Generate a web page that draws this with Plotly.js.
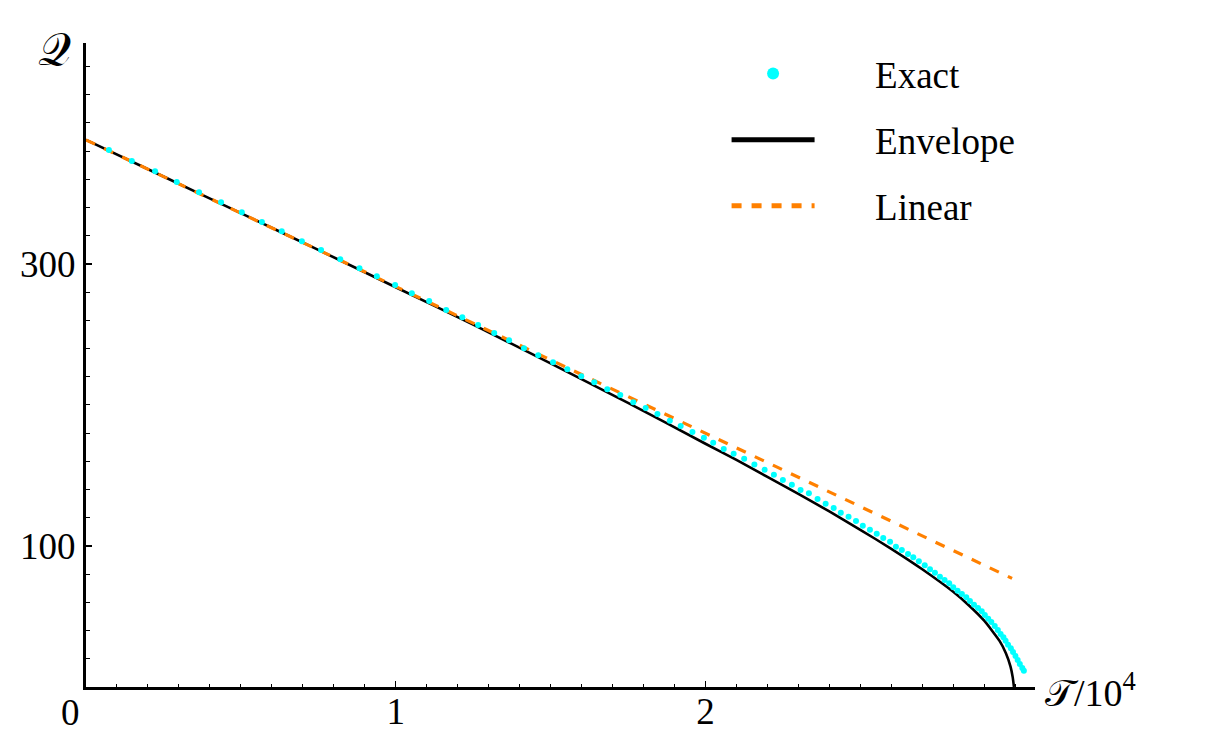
<!DOCTYPE html>
<html><head><meta charset="utf-8">
<script src="https://cdn.plot.ly/plotly-3.0.1.min.js"></script>
<style>html,body{margin:0;padding:0;background:#fff}#chart{width:1232px;height:746px}</style>
</head><body><div id="chart"></div>
<script>
// Exact (cyan dots): T/10^4 and Q
const exactT = [0.074,0.148,0.223,0.293,0.365,0.436,0.503,0.568,0.632,0.697,0.759,0.821,0.883,0.939,
  0.998,1.052,1.108,1.163,1.215,1.266,1.318,1.366,1.414,1.460,1.508,1.554,1.599,1.641,1.683,1.725,1.767,1.807,1.845,1.885,1.920,1.958,1.995,
  2.025,2.059,2.091,2.125,2.158,2.191,2.221,2.250,2.279,2.307,2.334,2.362,2.388,2.414,2.437,2.462,2.486,2.508,2.531,2.553,2.574,2.596,
  2.615,2.634,2.654,2.671,2.689,2.708,2.725,2.741,2.757,2.772,2.787,2.800,2.814,2.828,2.842,2.854,2.867,2.880,2.892,2.902,2.913,2.923,2.934,2.944,2.953,2.962,2.969,2.977,2.986,2.993,3.001,3.008,3.015,3.023,3.028];
const exactQ = [380.9,373.0,365.8,358.2,350.9,343.8,336.7,329.8,323.2,316.1,309.9,303.3,296.9,291.3,
  285.1,279.2,273.8,267.4,262.2,256.7,251.1,245.9,240.2,235.2,230.3,225.3,220.4,216.1,211.1,207.1,201.9,197.9,193.6,188.9,185.1,180.9,176.8,
  173.3,168.8,165.5,161.9,157.7,154.1,150.6,146.8,143.5,139.7,137.4,133.3,130.0,127.0,123.6,120.8,117.7,114.4,111.6,108.7,105.7,103.0,
  99.5,97.2,94.3,92.0,89.1,86.3,83.5,81.1,78.2,75.9,73.5,70.7,68.3,66.0,63.6,61.0,58.4,56.0,53.7,51.1,48.4,46.1,43.3,40.4,37.6,35.2,32.8,30.0,27.4,24.8,22.0,19.1,16.3,13.5,11.6];
// Envelope (black solid)
const envelopeT = [0,0.25,0.5,0.75,1.0,1.25,1.5,1.75,2.0,2.1,2.2,2.3,2.4,2.5,2.6,2.7,2.8,2.85,2.9,2.95,2.97,2.985,2.992,2.996];
const envelopeQ = [388,362,336,310,283.5,257,229.5,201.5,172.5,161,149,137,124.5,111.5,98,83.5,67.5,58,47,32.5,24,14.5,7,0];
// Linear (orange dashed)
const linearT = [0, 2.99];
const linearQ = [388, 77];
// Axis ticks
const xTickVals = [1, 2];
const xTickText = ['1', '2'];
const yTickVals = [100, 300];
const yTickText = ['100', '300'];
const yUnlabelledMajor = [200, 400];
const originLabel = '0';
const seriesNames = ['Exact', 'Envelope', 'Linear'];

const FONT = 'Liberation Serif, Times New Roman, serif';
const PAD = '\u00A0'.repeat(6);
const traces = [
  {x: envelopeT, y: envelopeQ, type: 'scatter', mode: 'lines', name: PAD + seriesNames[1], legendrank: 2, legendgroup: 'b',
   line: {color: '#000000', width: 2.6, shape: 'spline', smoothing: 0.5}},
  {x: linearT, y: linearQ, type: 'scatter', mode: 'lines', name: PAD + seriesNames[2], legendrank: 3, legendgroup: 'c',
   line: {color: '#FF8000', width: 3.2, dash: '10px,10px'}},
  {x: exactT, y: exactQ, type: 'scatter', mode: 'markers', name: PAD + seriesNames[0], legendrank: 1, legendgroup: 'a',
   marker: {color: '#00FFFF', size: 6}}
];
const yRange = [0, 456.7];
const layout = {
  width: 1232, height: 746,
  margin: {l: 86, r: 197, t: 43, b: 59},
  paper_bgcolor: '#ffffff', plot_bgcolor: '#ffffff',
  font: {family: FONT, size: 37, color: '#000'},
  showlegend: true,
  legend: {x: 0.675, y: 1.0, xanchor: 'left', yanchor: 'top', bgcolor: 'rgba(0,0,0,0)',
    font: {family: FONT, size: 37, color: '#000'}, itemsizing: 'constant', itemwidth: 83, tracegroupgap: 15},
  xaxis: {range: [0, 3.064], showgrid: false, zeroline: false, showline: true, linecolor: '#000', linewidth: 3,
    tickmode: 'array', tickvals: xTickVals, ticktext: xTickText, ticks: 'inside', ticklen: 6, tickwidth: 1.5, tickcolor: '#000',
    ticklabelstandoff: -10,
    minor: {tickmode: 'linear', tick0: 0, dtick: 0.1, ticks: 'inside', ticklen: 3.5, tickwidth: 1, tickcolor: '#000'},
    tickfont: {family: FONT, size: 37}},
  yaxis: {range: yRange, showgrid: false, zeroline: false, showline: true, linecolor: '#000', linewidth: 3,
    tickmode: 'array', tickvals: yTickVals, ticktext: yTickText, ticks: 'inside', ticklen: 6, tickwidth: 1.5, tickcolor: '#000',
    minor: {tickmode: 'linear', tick0: 0, dtick: 20, ticks: 'inside', ticklen: 3.5, tickwidth: 1, tickcolor: '#000'},
    tickfont: {family: FONT, size: 37}},
  yaxis2: {range: yRange, overlaying: 'y', side: 'left', showgrid: false, zeroline: false, showline: false,
    tickmode: 'array', tickvals: yUnlabelledMajor, showticklabels: false, ticks: 'inside', ticklen: 6, tickwidth: 1.5, tickcolor: '#000'},
  annotations: [
    {text: '𝒬', xref: 'paper', yref: 'paper', x: 0, y: 1, xshift: -32, yshift: -6, xanchor: 'center', yanchor: 'middle',
     showarrow: false, font: {family: FONT, size: 46}},
    {text: '𝒯/10<sup>4</sup>', xref: 'paper', yref: 'paper', x: 1, y: 0, xshift: 8, yshift: -3, xanchor: 'left', yanchor: 'middle',
     showarrow: false, font: {family: FONT, size: 38}},
    {text: originLabel, xref: 'paper', yref: 'paper', x: 0, y: 0, xshift: -16, yshift: -25, xanchor: 'center', yanchor: 'middle',
     showarrow: false, font: {family: FONT, size: 37}}
  ]
};
Plotly.newPlot('chart', traces, layout, {staticPlot: true, displayModeBar: false});
</script></body></html>
